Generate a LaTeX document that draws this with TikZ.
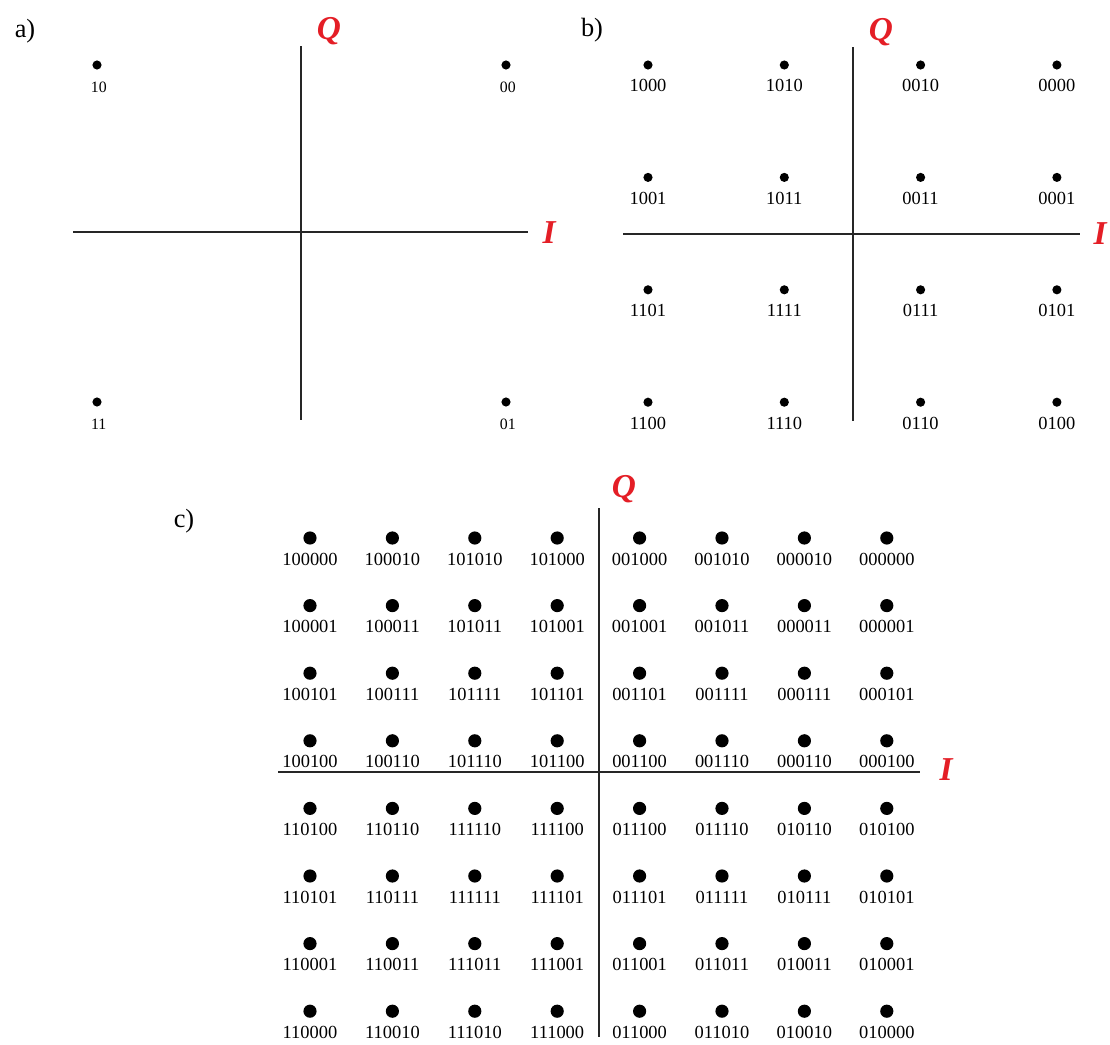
\documentclass[tikz,border=0pt]{standalone}
\usepackage{fontspec}
\setmainfont{Liberation Serif}
\usetikzlibrary{positioning}
\definecolor{qred}{HTML}{E41E26}
\tikzset{
  every picture/.style={x=0.02cm, y=-0.02cm},
  axis/.style={draw=black!85, line width=1pt},
  dot/.style={circle, fill=black, inner sep=0pt, minimum size=#1},
  dot/.default=5.2pt,
  bits/.style={font=\fontsize{#1}{12}\selectfont, inner sep=0pt, text height=0.68em, text depth=0pt},
  bits/.default=10.5,
  axlabel/.style={font=\fontsize{19}{21}\selectfont\bfseries\itshape, text=qred, inner sep=0pt},
  panel/.style={font=\fontsize{15}{17}\selectfont, inner sep=0pt},
}

\begin{document}
\begin{tikzpicture}
  \useasboundingbox (0,0) rectangle (1110,1045);

  % a) 4 points
  \node[panel] (pa) at (25,31) {a)};
  \coordinate (a-l) at (73,232);  \coordinate (a-r) at (528,232);
  \coordinate (a-t) at (301,46);  \coordinate (a-b) at (301,420);
  \draw[axis] (a-l) -- (a-r);
  \draw[axis] (a-t) -- (a-b);
  \node[axlabel] (a-q) at (329,31) {Q};
  \node[axlabel] (a-i) at (549,233) {I};
  \foreach \x/\y/\lab [count=\k] in {97/65/10, 506/65/00, 97/402/11, 506/402/01}{
    \node[dot] (a-\k) at (\x,\y) {};
    \node[bits=9, below=6pt of a-\k, xshift=1pt] (al-\k) {\lab};
  }

  % b) 16 points
  \node[panel] (pb) at (592,30) {b)};
  \coordinate (b-l) at (623,234);  \coordinate (b-r) at (1080,234);
  \coordinate (b-t) at (853,47);   \coordinate (b-b) at (853,421);
  \draw[axis] (b-l) -- (b-r);
  \draw[axis] (b-t) -- (b-b);
  \node[axlabel] (b-q) at (881,32) {Q};
  \node[axlabel] (b-i) at (1100,234) {I};
  \foreach \lab [count=\k from 0] in {1000,1010,0010,0000,1001,1011,0011,0001,
      1101,1111,0111,0101,1100,1110,0110,0100}{
    \pgfmathsetmacro\px{648+136.3*mod(\k,4)}
    \pgfmathsetmacro\py{65+112.4*int(\k/4)}
    \node[dot] (b-\k) at (\px,\py) {};
    \node[bits, below=5.5pt of b-\k] (bl-\k) {\lab};
  }

  % c) 64 points
  \node[panel] (pc) at (184,521) {c)};
  \coordinate (c-l) at (278,772);  \coordinate (c-r) at (920,772);
  \coordinate (c-t) at (599,508);  \coordinate (c-b) at (599,1037);
  \draw[axis] (c-l) -- (c-r);
  \draw[axis] (c-t) -- (c-b);
  \node[axlabel] (c-q) at (624,489) {Q};
  \node[axlabel] (c-i) at (946,770) {I};
  \foreach \lab [count=\k from 0] in {
      100000,100010,101010,101000,001000,001010,000010,000000,
      100001,100011,101011,101001,001001,001011,000011,000001,
      100101,100111,101111,101101,001101,001111,000111,000101,
      100100,100110,101110,101100,001100,001110,000110,000100,
      110100,110110,111110,111100,011100,011110,010110,010100,
      110101,110111,111111,111101,011101,011111,010111,010101,
      110001,110011,111011,111001,011001,011011,010011,010001,
      110000,110010,111010,111000,011000,011010,010010,010000}{
    \pgfmathsetmacro\px{310+82.4*mod(\k,8)}
    \pgfmathsetmacro\py{538+67.6*int(\k/8)}
    \node[dot=7.5pt] (c-\k) at (\px,\py) {};
    \node[bits, below=4.5pt of c-\k] (cl-\k) {\lab};
  }
\end{tikzpicture}
\end{document}
